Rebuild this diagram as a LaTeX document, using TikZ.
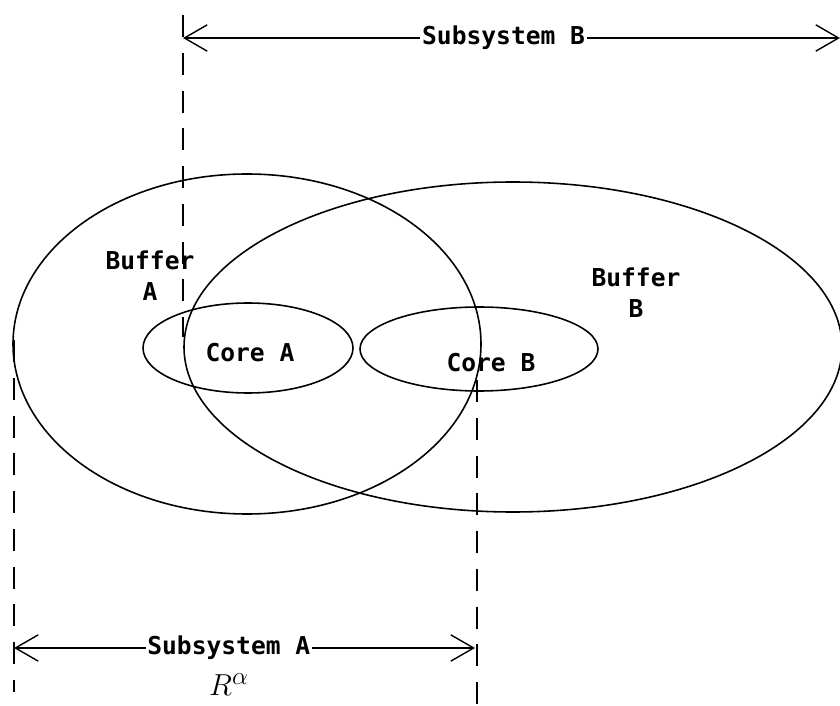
\documentclass[tikz,border=0pt]{standalone}
\usepackage{fontspec}
\usepackage{amsmath}
\usepackage{tikz}
\usetikzlibrary{arrows.meta}
\newfontfamily\pixfont{DejaVu Sans Mono}

\begin{document}
\begin{tikzpicture}[x=0.02cm,y=-0.02cm,line width=0.9pt,
    lab/.style={font=\pixfont\bfseries\fontsize{14}{17.5}\selectfont,inner sep=1pt,align=center},
    guide/.style={line width=1pt,dash pattern=on 12.5pt off 9pt},
    span/.style={line width=0.8pt,{Straight Barb[length=13pt,width=15pt]}-{Straight Barb[length=13pt,width=15pt]}}]
  \useasboundingbox (0,0) rectangle (840,706);
  % dashed guides
  \coordinate (gBtop) at (183,15);
  \coordinate (gBbot) at (183,337);
  \coordinate (gAtop) at (14,340);
  \coordinate (gAbot) at (14,692);
  \coordinate (gRtop) at (477,380);
  \coordinate (gRbot) at (477,706);
  \draw[guide] (gBtop) -- (gBbot);
  \draw[guide] (gAtop) -- (gAbot);
  \draw[guide] (gRtop) -- (gRbot);
  % buffers and cores
  \draw (247,344) ellipse [x radius=234, y radius=170];
  \draw (513,347) ellipse [x radius=329, y radius=165];
  \draw (248,348) ellipse [x radius=105, y radius=45];
  \draw (479,349) ellipse [x radius=119, y radius=42];
  \node[lab] (bufA) at (150,276) {Buffer\\A};
  \node[lab] (bufB) at (636,293) {Buffer\\B};
  \node[lab] (coreA) at (250,353) {Core A};
  \node[lab] (coreB) at (491,363) {Core B};
  % spans
  \coordinate (sBl) at (183,38);
  \coordinate (sBr) at (840,38);
  \coordinate (sAl) at (14,648);
  \coordinate (sAr) at (475,648);
  \draw[span] (sBl) -- node[lab,fill=white,pos=0.488] (subB) {Subsystem B} (sBr);
  \draw[span] (sAl) -- node[lab,fill=white,pos=0.466] (subA) {Subsystem A} (sAr);
  \node (ralpha) at (229,685) {\fontsize{19}{22}\selectfont$R^{\alpha}$};
\end{tikzpicture}
\end{document}
